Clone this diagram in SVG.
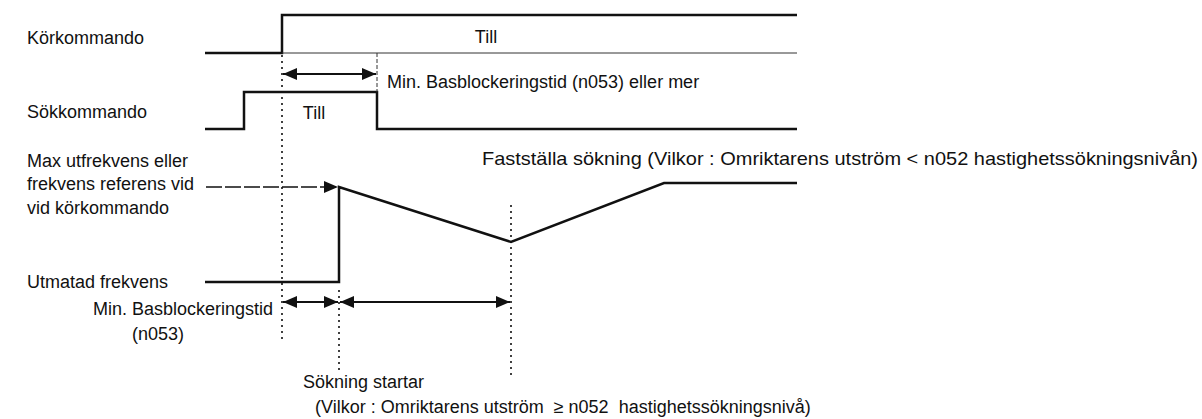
<svg xmlns="http://www.w3.org/2000/svg" width="1202" height="419" viewBox="0 0 1202 419">
<style>
text{font-family:"Liberation Sans",Arial,sans-serif;font-size:18px;fill:#111}
.sig{fill:none;stroke:#111;stroke-width:2.5;stroke-linejoin:miter}
.thin{fill:none;stroke:#333;stroke-width:1}
.dot{fill:none;stroke:#111;stroke-width:1.6;stroke-dasharray:2 4}
.dim{fill:none;stroke:#111;stroke-width:2}
</style>
<defs>
<marker id="ah" viewBox="0 0 14 12" refX="14" refY="6" markerWidth="14" markerHeight="12" markerUnits="userSpaceOnUse" orient="auto-start-reverse">
<path d="M0,0 L14,6 L0,12 Z" fill="#111"/>
</marker>
</defs>
<rect width="1202" height="419" fill="#fff"/>

<g id="labels">
<text x="27" y="44">Körkommando</text>
<text x="27" y="118">Sökkommando</text>
<text x="27" y="167">Max utfrekvens eller</text>
<text x="27" y="190">frekvens referens vid</text>
<text x="27" y="214">vid körkommando</text>
<text x="27" y="288">Utmatad frekvens</text>
<text x="273" y="315" text-anchor="end">Min. Basblockeringstid</text>
<text x="158" y="340" text-anchor="middle">(n053)</text>
</g>

<g id="run-command">
<polyline class="sig" points="205,53 282,53 282,15 797,15"/>
<line class="thin" x1="282" y1="53" x2="797" y2="53"/>
<text x="486" y="43" text-anchor="middle">Till</text>
</g>

<g id="search-command">
<polyline class="sig" points="205,129 244,129 244,92 377,92 377,129 797,129"/>
<text x="314" y="119" text-anchor="middle">Till</text>
</g>

<g id="output-frequency">
<polyline class="sig" points="205,282 339,282 339,187 511,242 664,183 797,183" stroke-width="3"/>
</g>

<g id="annotations">
<text x="387" y="88">Min. Basblockeringstid (n053) eller mer</text>
<text x="482" y="165" style="font-size:19px" textLength="716" lengthAdjust="spacingAndGlyphs">Fastställa sökning (Vilkor : Omriktarens utström &lt; n052 hastighetssökningsnivån)</text>
<text x="303" y="388">Sökning startar</text>
<text x="315" y="413" xml:space="preserve">(Vilkor : Omriktarens utström  ≥ n052  hastighetssökningsnivå)</text>
</g>

<g id="connectors">
<line class="dot" x1="282" y1="55" x2="282" y2="342"/>
<line class="thin" x1="377" y1="53" x2="377" y2="92" stroke-dasharray="4 2"/>
<line class="dot" x1="339" y1="290" x2="339" y2="372"/>
<line class="dot" x1="511" y1="205" x2="511" y2="378"/>
<line class="dim" x1="283" y1="74" x2="376" y2="74" marker-start="url(#ah)" marker-end="url(#ah)"/>
<line class="dim" x1="283" y1="302" x2="338" y2="302" marker-start="url(#ah)" marker-end="url(#ah)"/>
<line class="dim" x1="340" y1="302" x2="510" y2="302" marker-start="url(#ah)" marker-end="url(#ah)"/>
<line x1="206" y1="187" x2="338" y2="187" stroke="#111" stroke-width="1.6" stroke-dasharray="16 3" marker-end="url(#ah)"/>
</g>
</svg>
